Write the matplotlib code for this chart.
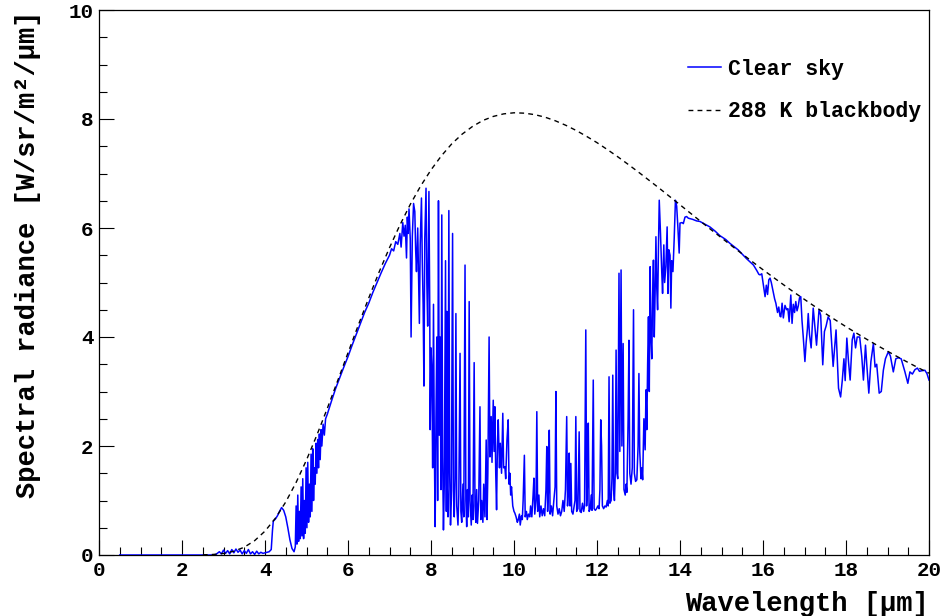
import numpy as np
import matplotlib
matplotlib.use("Agg")
import matplotlib.pyplot as plt

plt.rcParams['font.family'] = ['Liberation Mono', 'DejaVu Sans']
plt.rcParams['font.weight'] = 'bold'

# ---------------- data ----------------
# 288 K blackbody, wavelength grid 2.5..20 um step 0.25
bb_wavelength = np.arange(2.5, 20.001, 0.25)
bb_radiance = [0.003, 0.010, 0.029, 0.069, 0.143, 0.263, 0.438, 0.674, 0.973, 1.332,
               1.744, 2.200, 2.688, 3.195, 3.709, 4.221, 4.716, 5.193, 5.639, 6.053,
               6.432, 6.770, 7.066, 7.324, 7.544, 7.722, 7.863, 7.973, 8.047, 8.094,
               8.114, 8.107, 8.080, 8.033, 7.966, 7.884, 7.789, 7.681, 7.566, 7.439,
               7.307, 7.168, 7.025, 6.878, 6.730, 6.578, 6.426, 6.273, 6.120, 5.968,
               5.820, 5.670, 5.524, 5.377, 5.234, 5.094, 4.956, 4.820, 4.689, 4.559,
               4.433, 4.310, 4.189, 4.072, 3.958, 3.847, 3.739, 3.634, 3.531, 3.432,
               3.336]

# Clear-sky spectrum, (wavelength um, radiance)
sky_short = [(0.5, 0.0), (2.8, 0.0), (2.9, 0.06), (2.95, 0.02), (3.0, 0.09), (3.05, 0.03),
             (3.1, 0.08), (3.15, 0.02), (3.2, 0.10), (3.25, 0.04), (3.3, 0.11), (3.35, 0.05),
             (3.4, 0.09), (3.45, 0.02), (3.5, 0.08), (3.55, 0.03), (3.6, 0.10), (3.65, 0.02),
             (3.7, 0.06), (3.75, 0.01), (3.8, 0.07), (3.85, 0.02), (3.9, 0.05), (3.95, 0.03),
             (4.0, 0.04), (4.1, 0.06), (4.15, 0.10), (4.18, 0.45), (4.2, 0.62), (4.25, 0.66),
             (4.3, 0.72), (4.35, 0.80), (4.4, 0.87), (4.45, 0.82), (4.5, 0.70), (4.55, 0.50),
             (4.6, 0.28), (4.65, 0.12), (4.7, 0.06)]

sky_rise = [(4.73, 0.15), (4.75, 0.90), (4.77, 0.20), (4.79, 1.10), (4.81, 0.25), (4.83, 0.80),
            (4.85, 0.30), (4.87, 1.25), (4.89, 0.35), (4.91, 1.40), (4.93, 0.30), (4.95, 1.00),
            (4.97, 0.40), (4.99, 1.60), (5.01, 0.50), (5.03, 1.70), (5.05, 0.60), (5.07, 1.30),
            (5.09, 0.70), (5.11, 1.85), (5.13, 0.80), (5.15, 1.95), (5.17, 1.00), (5.19, 1.60),
            (5.21, 1.30), (5.23, 2.05), (5.25, 1.50), (5.27, 2.12), (5.29, 1.60), (5.31, 2.22),
            (5.33, 1.75), (5.35, 2.30), (5.37, 2.00), (5.40, 2.40), (5.43, 2.20), (5.46, 2.50),
            (5.50, 2.58), (5.6, 2.82), (5.7, 3.05), (5.8, 3.25), (5.9, 3.45), (6.0, 3.64),
            (6.1, 3.85), (6.2, 4.05), (6.3, 4.25), (6.4, 4.45), (6.5, 4.62), (6.6, 4.82),
            (6.7, 5.00), (6.8, 5.18), (6.9, 5.35), (7.0, 5.50), (7.05, 5.62), (7.1, 5.58),
            (7.15, 5.75), (7.2, 5.70), (7.25, 5.90), (7.28, 5.65), (7.32, 6.10), (7.35, 5.85),
            (7.38, 6.05), (7.41, 5.45), (7.43, 6.20), (7.45, 5.90), (7.47, 6.35)]

sky_water = [(7.50, 5.80), (7.52, 4.00), (7.55, 5.85), (7.58, 6.45), (7.61, 6.30), (7.63, 5.60),
             (7.65, 5.20), (7.68, 6.00), (7.70, 5.10), (7.72, 4.25), (7.74, 5.70), (7.77, 6.55),
             (7.79, 5.40), (7.81, 4.60), (7.83, 3.10), (7.85, 5.80), (7.88, 6.73), (7.90, 5.00),
             (7.92, 4.20), (7.95, 6.67), (7.97, 4.50), (7.98, 2.30), (8.00, 3.80), (8.02, 3.40),
             (8.04, 1.60), (8.06, 4.60), (8.08, 2.00), (8.10, 0.52), (8.12, 2.50), (8.14, 4.00),
             (8.16, 1.00), (8.18, 6.50), (8.20, 2.20), (8.22, 4.00), (8.24, 1.20), (8.26, 6.24),
             (8.28, 1.80), (8.30, 0.46), (8.32, 1.30), (8.35, 5.40), (8.37, 0.80), (8.38, 4.47),
             (8.39, 1.25), (8.41, 0.70), (8.43, 6.32), (8.45, 1.50), (8.47, 0.55), (8.49, 1.00),
             (8.52, 5.90), (8.54, 1.20), (8.56, 0.70), (8.58, 1.40), (8.60, 4.43), (8.62, 0.90),
             (8.65, 0.55), (8.67, 1.10), (8.70, 3.70), (8.72, 0.80), (8.74, 0.60), (8.77, 1.30),
             (8.79, 0.70), (8.82, 5.32), (8.84, 1.00), (8.86, 0.52), (8.88, 1.20), (8.90, 0.70),
             (8.92, 4.65), (8.94, 1.00), (8.97, 0.55), (8.99, 1.10), (9.01, 0.65), (9.04, 3.53),
             (9.06, 0.90), (9.08, 0.60), (9.10, 1.20), (9.12, 0.58), (9.15, 1.00), (9.18, 2.72),
             (9.20, 0.65), (9.22, 1.00), (9.25, 0.60), (9.27, 1.30), (9.30, 0.70), (9.33, 2.11),
             (9.35, 0.65), (9.37, 1.50)]

sky_ozone = [(9.40, 4.00), (9.42, 1.80), (9.45, 2.54), (9.47, 1.70), (9.50, 2.84), (9.52, 1.90),
             (9.54, 2.72), (9.56, 1.50), (9.58, 0.83), (9.60, 2.00), (9.62, 2.48), (9.65, 1.60),
             (9.67, 2.05), (9.70, 1.50), (9.73, 2.60), (9.75, 1.60), (9.78, 1.62), (9.80, 1.40),
             (9.83, 2.10), (9.86, 2.48), (9.88, 1.30), (9.90, 1.50), (9.92, 1.10), (9.94, 1.25),
             (9.97, 0.90), (10.00, 0.80), (10.02, 0.77), (10.05, 0.70), (10.08, 0.60),
             (10.10, 0.64), (10.13, 0.75), (10.15, 0.55)]

sky_window = [(10.18, 0.72), (10.20, 0.65), (10.22, 1.00), (10.25, 1.83), (10.27, 0.70),
              (10.30, 0.80), (10.32, 0.65), (10.35, 0.75), (10.38, 0.70), (10.40, 0.90),
              (10.43, 0.70), (10.46, 1.10), (10.48, 1.41), (10.50, 0.75), (10.53, 1.00),
              (10.55, 2.63), (10.57, 0.80), (10.60, 1.10), (10.62, 0.70), (10.65, 0.90),
              (10.68, 0.72), (10.71, 0.85), (10.74, 0.72), (10.77, 1.20), (10.79, 1.99),
              (10.81, 0.80), (10.83, 1.20), (10.85, 2.29), (10.87, 0.75), (10.90, 0.90),
              (10.93, 0.72), (10.96, 1.00), (10.99, 1.25), (11.01, 3.00), (11.03, 0.90),
              (11.06, 0.75), (11.09, 0.85), (11.12, 0.72), (11.15, 0.80), (11.18, 1.00),
              (11.21, 0.80), (11.24, 1.20), (11.27, 2.54), (11.29, 0.90), (11.31, 1.20),
              (11.33, 1.87), (11.35, 0.90), (11.37, 1.68), (11.39, 0.80), (11.42, 0.75),
              (11.45, 0.90), (11.47, 1.00), (11.49, 2.54), (11.51, 0.80), (11.54, 0.85),
              (11.57, 2.26), (11.59, 0.80), (11.62, 0.78), (11.65, 0.95), (11.68, 0.80),
              (11.70, 0.90), (11.73, 4.13), (11.75, 0.90), (11.77, 1.30), (11.79, 2.42),
              (11.81, 0.80), (11.84, 0.85), (11.86, 1.10), (11.88, 0.82), (11.91, 3.21),
              (11.93, 0.85), (11.96, 0.82), (11.99, 0.85), (12.02, 0.90), (12.05, 0.85),
              (12.07, 1.20), (12.09, 2.48), (12.11, 2.00), (12.13, 0.90), (12.16, 0.85),
              (12.19, 0.90), (12.22, 0.88), (12.25, 1.00), (12.27, 0.90), (12.29, 3.27),
              (12.31, 0.95), (12.34, 1.00), (12.36, 1.40), (12.38, 3.30), (12.40, 1.20),
              (12.42, 1.00), (12.44, 1.50), (12.46, 3.76), (12.48, 1.50), (12.50, 1.40),
              (12.53, 5.17), (12.55, 1.90), (12.58, 5.23), (12.60, 2.00), (12.63, 3.88),
              (12.65, 1.20), (12.68, 1.10), (12.70, 1.30), (12.72, 1.15), (12.75, 2.50),
              (12.77, 3.94), (12.79, 1.50), (12.82, 1.30), (12.85, 1.60), (12.88, 4.50),
              (12.90, 1.50), (12.93, 1.35), (12.96, 1.38), (12.99, 2.00), (13.01, 3.33),
              (13.03, 1.90), (13.06, 1.40), (13.08, 1.60), (13.10, 1.38), (13.13, 2.50),
              (13.16, 1.93), (13.18, 3.03), (13.20, 2.30), (13.22, 3.50), (13.24, 4.37),
              (13.26, 3.00), (13.28, 5.29), (13.30, 4.00), (13.32, 3.60), (13.34, 4.74),
              (13.36, 5.41), (13.38, 4.00), (13.40, 4.80), (13.42, 5.84), (13.44, 4.90),
              (13.46, 4.50), (13.48, 5.60), (13.50, 6.51), (13.53, 5.90), (13.56, 5.20),
              (13.58, 4.80), (13.61, 5.69), (13.63, 5.00), (13.66, 5.30), (13.69, 6.02),
              (13.71, 4.80), (13.73, 5.60), (13.76, 5.50), (13.78, 4.53), (13.80, 5.40),
              (13.83, 5.20), (13.86, 5.80), (13.89, 6.51), (13.92, 6.40), (13.95, 6.00),
              (13.98, 5.54)]

sky_long = [(14.00, 6.09), (14.05, 6.10), (14.08, 6.08), (14.12, 6.20), (14.16, 6.21),
            (14.20, 6.18), (14.30, 6.16), (14.40, 6.13), (14.48, 6.12), (14.60, 6.07),
            (14.72, 6.02), (14.85, 5.94), (14.96, 5.86), (15.10, 5.79), (15.20, 5.72),
            (15.30, 5.66), (15.40, 5.60), (15.50, 5.52), (15.60, 5.44), (15.70, 5.37),
            (15.77, 5.32), (15.85, 5.22), (15.90, 5.15), (15.93, 5.14), (15.97, 5.16),
            (16.00, 5.00), (16.05, 4.74), (16.08, 4.95), (16.11, 4.78), (16.14, 5.05),
            (16.17, 5.08), (16.20, 5.00), (16.24, 4.85), (16.28, 4.70), (16.31, 4.62),
            (16.35, 4.45), (16.38, 4.55), (16.41, 4.38), (16.43, 4.37), (16.46, 4.62),
            (16.49, 4.35), (16.53, 4.58), (16.57, 4.50), (16.60, 4.52), (16.63, 4.28),
            (16.67, 4.77), (16.70, 4.25), (16.73, 4.60), (16.76, 4.45), (16.79, 4.65),
            (16.82, 4.48), (16.85, 4.57), (16.88, 4.72), (16.91, 4.74), (16.94, 4.30),
            (16.97, 4.00), (17.01, 3.55), (17.04, 3.90), (17.07, 4.15), (17.09, 4.43),
            (17.12, 4.05), (17.16, 3.80), (17.21, 4.53), (17.25, 4.20), (17.29, 3.85),
            (17.35, 4.50), (17.39, 4.40), (17.44, 3.49), (17.48, 4.10), (17.52, 4.20),
            (17.57, 4.37), (17.62, 4.30), (17.69, 3.46), (17.76, 4.13), (17.82, 3.06),
            (17.87, 2.90), (17.91, 3.20), (17.95, 3.60), (17.98, 3.20), (18.02, 3.98),
            (18.06, 3.55), (18.10, 3.21), (18.15, 3.95), (18.19, 4.07), (18.23, 3.80),
            (18.27, 4.00), (18.33, 4.00), (18.38, 3.64), (18.42, 3.21), (18.47, 3.85),
            (18.50, 3.50), (18.55, 2.97), (18.60, 3.55), (18.66, 3.88), (18.70, 3.45),
            (18.74, 3.50), (18.80, 2.97), (18.85, 3.00), (18.90, 3.39), (18.95, 3.60),
            (19.02, 3.73), (19.07, 3.65), (19.14, 3.36), (19.20, 3.60), (19.26, 3.62),
            (19.33, 3.60), (19.42, 3.36), (19.49, 3.15), (19.54, 3.36), (19.60, 3.32),
            (19.66, 3.40), (19.72, 3.43), (19.77, 3.37), (19.82, 3.38), (19.90, 3.39),
            (19.95, 3.33), (20.00, 3.21)]

x_ticks = [0, 2, 4, 6, 8, 10, 12, 14, 16, 18, 20]
y_ticks = [0, 2, 4, 6, 8, 10]

sky = sky_short + sky_rise + sky_water + sky_ozone + sky_window + sky_long
sky_wavelength = [p[0] for p in sky]
sky_radiance = [p[1] for p in sky]

# ---------------- figure ----------------
fig = plt.figure(figsize=(9.43, 6.16), dpi=100)
W, H = 943, 616
x0, x1, y0, y1 = 99, 929, 555, 10
ax = fig.add_axes([x0 / W, 1 - y0 / H, (x1 - x0) / W, (y0 - y1) / H])

ax.plot(sky_wavelength, sky_radiance, color='#0000ff', lw=1.1, label='Clear sky', zorder=3)
ax.plot(bb_wavelength, bb_radiance, color='black', lw=1.0, ls=(0, (3.5, 3)),
        label='288 K blackbody', zorder=4)

ax.set_xlim(0, 20)
ax.set_ylim(0, 10)
ax.set_xticks(x_ticks)
ax.set_yticks(y_ticks)
ax.set_xticks(np.arange(0, 20.01, 0.5), minor=True)
ax.set_yticks(np.arange(0, 10.01, 0.5), minor=True)
ax.tick_params(which='major', direction='in', length=11, width=0.8, labelsize=15, pad=4,
               top=False, right=False)
ax.tick_params(which='minor', direction='in', length=5.5, width=0.8, top=False, right=False)
for lab in ax.get_xticklabels() + ax.get_yticklabels():
    lab.set_fontweight('bold')
for s in ax.spines.values():
    s.set_linewidth(0.9)
    s.set_color('black')

ax.set_xlabel('Wavelength [μm]', fontsize=19.5, fontweight='bold', ha='right', va='center')
ax.xaxis.set_label_coords(1.0, -0.09)
ax.set_ylabel('Spectral radiance [W/sr/m²/μm]', fontsize=19.5, fontweight='bold',
              ha='right', va='center')
ax.yaxis.set_label_coords(-0.0855, 1.0)

leg = ax.legend(loc='upper left', bbox_to_anchor=(0.7096, 0.9105), frameon=False,
                handlelength=1.55, handletextpad=0.3, labelspacing=1.0,
                borderpad=0, borderaxespad=0, prop={'weight': 'bold', 'size': 15.5})

fig.savefig('out.png', dpi=100)
